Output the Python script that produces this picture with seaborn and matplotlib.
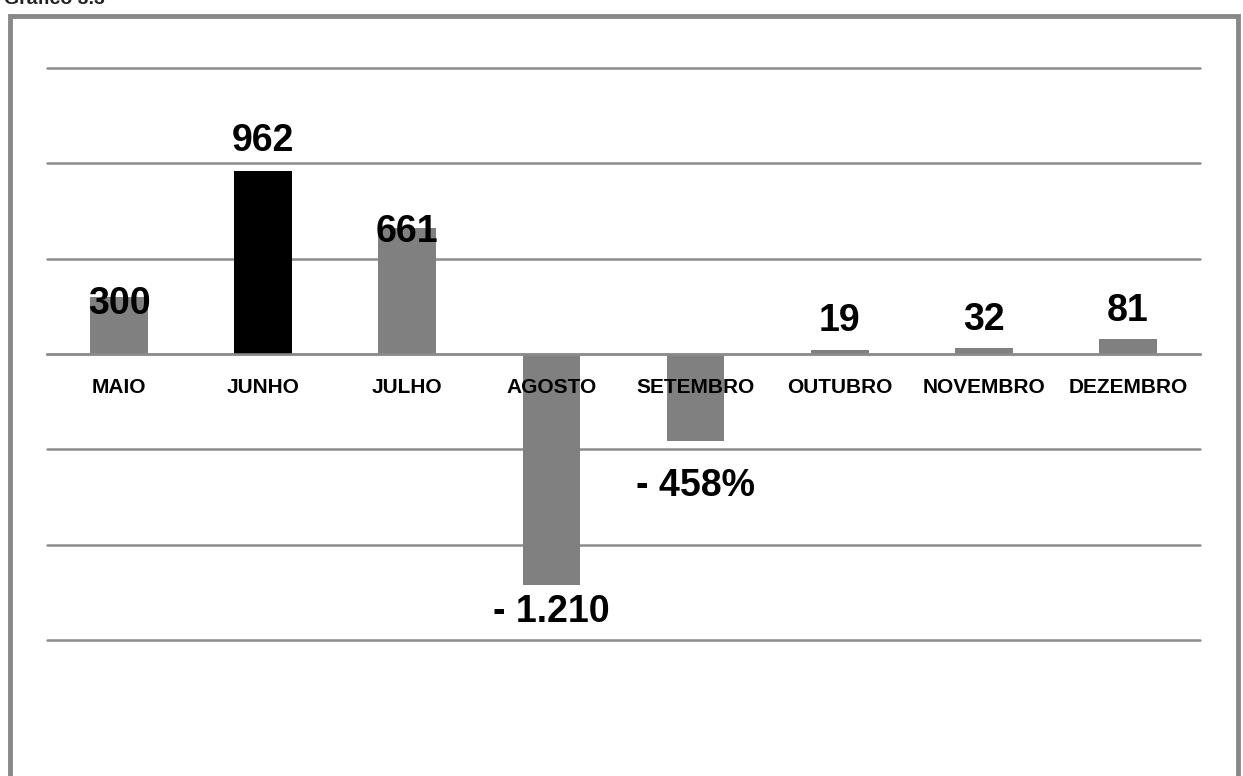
import numpy as np
import pandas as pd
import matplotlib
matplotlib.use("Agg")
import matplotlib.pyplot as plt
import matplotlib.patches as patches
import seaborn as sns

# DATA

months = ["MAIO", "JUNHO", "JULHO", "AGOSTO", "SETEMBRO", "OUTUBRO", "NOVEMBRO", "DEZEMBRO"]
values = [300, 962, 661, -1210, -458, 19, 32, 81]
value_labels = ["300", "962", "661", "- 1.210", "- 458%", "19", "32", "81"]
bar_colors = ["#808080", "#000000", "#808080", "#808080", "#808080", "#808080", "#808080", "#808080"]
# vertical offset of each value label from the bar end, in points
label_offsets = [-5, 21, -3, -20, -32, 21, 20, 20]

df = pd.DataFrame({"mes": months, "valor": values})

sns.set_theme(style="white")
plt.rcParams["font.family"] = ["Liberation Sans", "DejaVu Sans"]

W, H = 1243, 776
fig = plt.figure(figsize=(W / 100, H / 100), dpi=100)

# outer gray frame (runs off the bottom edge)
frame = patches.Rectangle((10.5 / W, -0.05), (1238 - 10.5) / W, 1 - 15.5 / H + 0.05,
                          transform=fig.transFigure, fill=False,
                          edgecolor="#888888", linewidth=3.5, clip_on=False)
fig.patches.append(frame)

# partially visible caption at the very top
fig.text(4 / W, 1 - 4 / H, "Gráfico 3.3", fontsize=14, fontweight="bold",
         color="#222222", ha="left", va="baseline")

ax = fig.add_axes([47 / W, 1 - 640 / H, (1200 - 47) / W, (640 - 68) / H])
sns.barplot(data=df, x="mes", y="valor", hue="mes", palette=bar_colors,
            legend=False, width=0.4, saturation=1, linewidth=0, ax=ax, zorder=2)

ax.set_ylim(-1500, 1500)
ax.set_xlim(-0.5, len(months) - 0.5)
ax.set_yticks(np.arange(-1500, 1501, 500))
ax.yaxis.grid(True, color="#8c8c8c", linewidth=1.8)
for gl in ax.get_ygridlines():
    gl.set_clip_on(False)
ax.set_axisbelow(True)
ax.tick_params(axis="y", left=False, labelleft=False)
ax.set_xlabel("")
ax.set_ylabel("")

for side in ["top", "right", "left"]:
    ax.spines[side].set_visible(False)
ax.spines["bottom"].set_position(("data", 0))
ax.spines["bottom"].set_color("#8c8c8c")
ax.spines["bottom"].set_linewidth(1.8)

ax.set_xticks(range(len(months)))
ax.set_xticklabels([])
ax.set_xticks(np.arange(-0.5, len(months)), minor=True)
ax.tick_params(axis="x", which="major", length=0)
ax.tick_params(axis="x", which="minor", length=6, width=1.5, color="#8c8c8c", direction="out")

# category names drawn above the bars (as in the original)
for i, m in enumerate(months):
    ax.annotate(m, xy=(i, 0), xytext=(0, -24), textcoords="offset points",
                ha="center", va="center", fontsize=15, fontweight="bold",
                color="black", zorder=6)

for i, (v, lab, off) in enumerate(zip(values, value_labels, label_offsets)):
    ax.annotate(lab, xy=(i, v), xytext=(0, off), textcoords="offset points",
                ha="center", va="center", fontsize=27, fontweight="bold",
                color="black", zorder=6)

fig.savefig("out.png", dpi=100)
